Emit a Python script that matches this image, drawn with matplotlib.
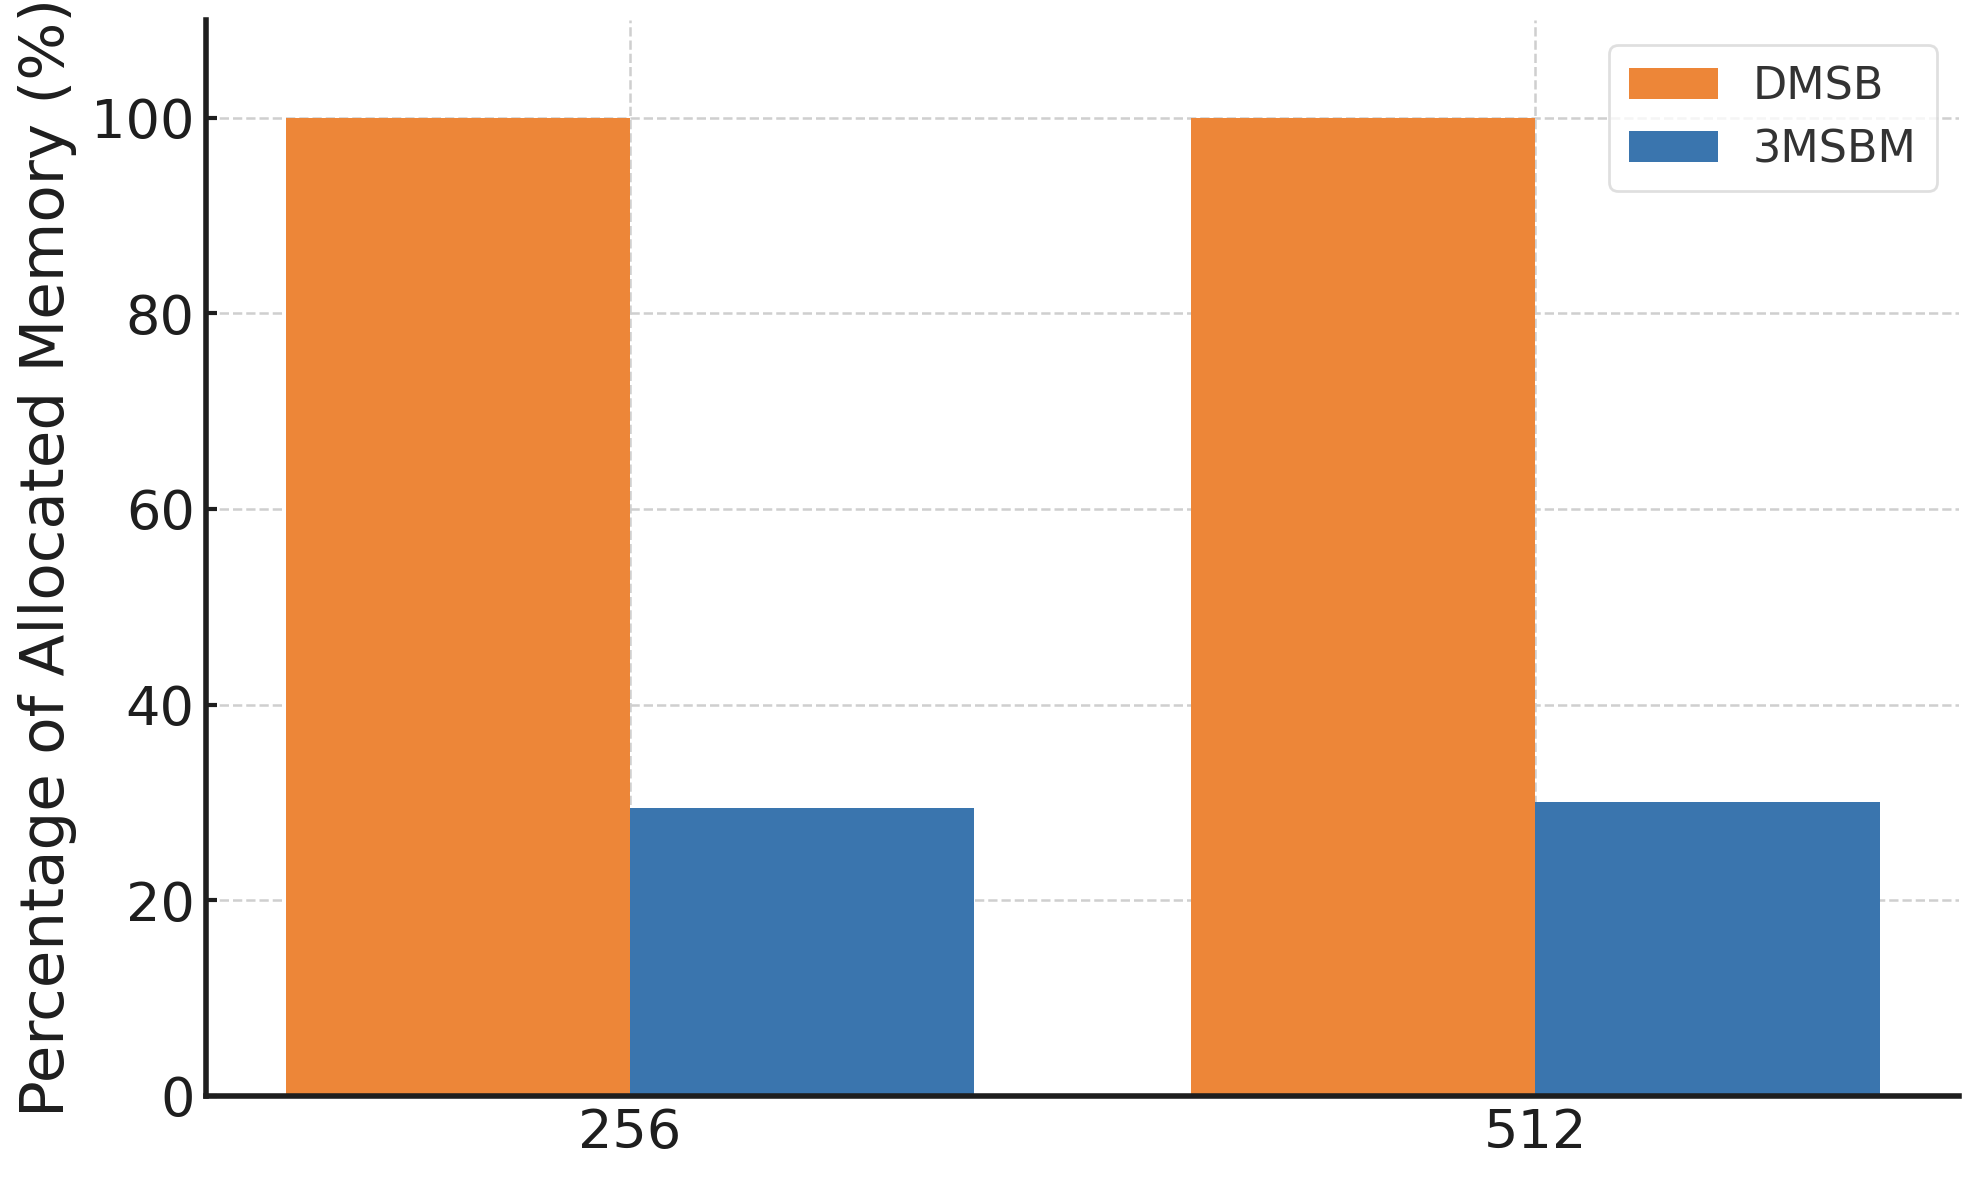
import matplotlib
matplotlib.use("Agg")
import matplotlib.pyplot as plt
import numpy as np

categories = ["256", "512"]
dmsb = [100, 100]
msbm = [29.4, 30.0]
series_labels = ["DMSB", "3MSBM"]
colors = ["#ED8638", "#3A75AE"]

plt.rcParams['font.family'] = ['DejaVu Sans']
fig = plt.figure(figsize=(19.79, 11.80), dpi=100)
ax = fig.add_axes([0.104, 0.0712, 0.886, 0.912])

x = np.arange(len(categories))
w = 0.38
ax.bar(x - w/2, dmsb, w, color=colors[0], label=series_labels[0], zorder=2)
ax.bar(x + w/2, msbm, w, color=colors[1], label=series_labels[1], zorder=2)

ax.set_ylim(0, 110)
ax.set_yticks([0, 20, 40, 60, 80, 100])
ax.set_xticks(x)
ax.set_xticklabels(categories)
ax.grid(True, linestyle='--', color='#cfcfcf', linewidth=1.8, zorder=0)
ax.set_axisbelow(True)
for s in ['top', 'right']:
    ax.spines[s].set_visible(False)
for s in ['left', 'bottom']:
    ax.spines[s].set_linewidth(4)
    ax.spines[s].set_color('#1e1e1e')
ax.tick_params(axis='both', labelsize=39, colors='#1e1e1e', direction='in', length=8, width=3, pad=8)
ax.set_ylabel("Percentage of Allocated Memory (%)", fontsize=44, color='#1e1e1e', labelpad=10)

leg = ax.legend(loc='upper right', fontsize=32, frameon=True, fancybox=True,
                edgecolor='#d8d8d8', handlelength=2.0, handleheight=0.7,
                handletextpad=0.8, borderpad=0.45, labelspacing=0.45,
                bbox_to_anchor=(1.0, 0.997))
leg.get_frame().set_linewidth(2)
for t in leg.get_texts():
    t.set_color('#333333')

fig.savefig("out.png", dpi=100)
